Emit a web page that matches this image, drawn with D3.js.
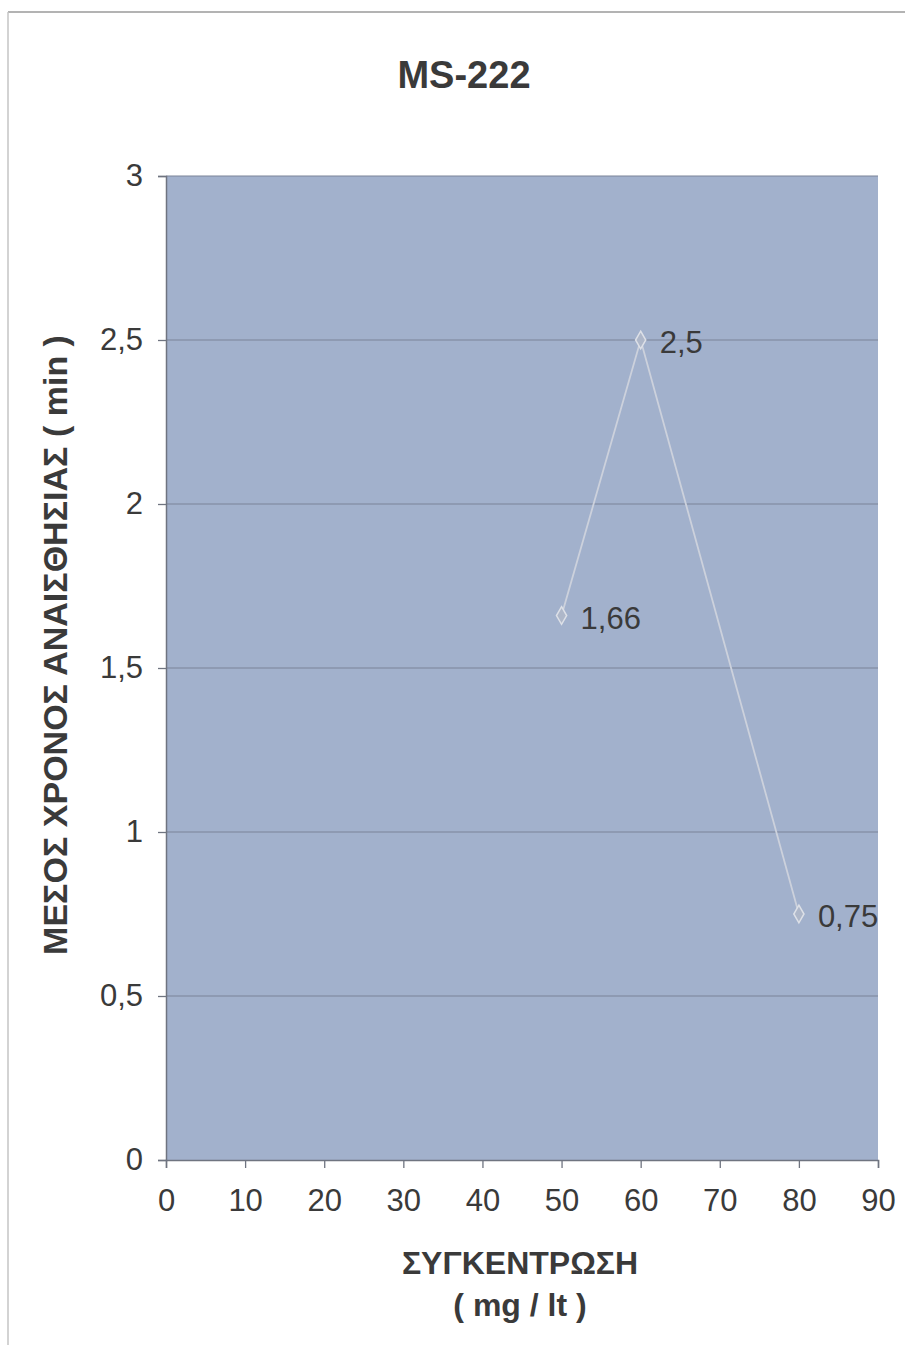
<!DOCTYPE html>
<html>
<head>
<meta charset="utf-8">
<script src="https://cdn.jsdelivr.net/npm/d3@7"></script>
<style>
  body { margin: 0; background: #fff; }
  text { font-family: "Liberation Sans", Arial, sans-serif; fill: #3a3a3a; }
</style>
</head>
<body>
<div id="chart"></div>
<script>
// data
var concentration = [50, 60, 80];
var meanTime = [1.66, 2.5, 0.75];
var pointLabels = ["1,66", "2,5", "0,75"];
var xTicks = [0, 10, 20, 30, 40, 50, 60, 70, 80, 90];
var yTicks = [0, 0.5, 1, 1.5, 2, 2.5, 3];

var width = 912, height = 1345;
var margin = {top: 176, right: 32, bottom: 185, left: 166};

var svg = d3.select("#chart").append("svg")
    .attr("width", width)
    .attr("height", height);

// page frame (scanned page edge)
svg.append("line").attr("x1", 8).attr("x2", 905).attr("y1", 12).attr("y2", 12)
    .attr("stroke", "#9a9a9a").attr("stroke-width", 1.5);
svg.append("line").attr("x1", 8).attr("x2", 8).attr("y1", 12).attr("y2", height)
    .attr("stroke", "#c4c4c4").attr("stroke-width", 1.5);

var x = d3.scaleLinear().domain([0, 90]).range([margin.left, width - margin.right - 2]);
var y = d3.scaleLinear().domain([0, 3]).range([height - margin.bottom, margin.top]);

// plot area
svg.append("rect")
    .attr("x", x(0)).attr("y", y(3))
    .attr("width", x(90) - x(0)).attr("height", y(0) - y(3))
    .attr("fill", "#a2b1cc");

// gridlines
svg.append("g").selectAll("line")
    .data(yTicks.filter(function(d){ return d > 0; }))
    .enter().append("line")
    .attr("x1", x(0)).attr("x2", x(90))
    .attr("y1", function(d){ return y(d); }).attr("y2", function(d){ return y(d); })
    .attr("stroke", "#7b8397").attr("stroke-width", 1.2);

var fmt = function(d){ return String(d).replace(".", ","); };

var yAxis = svg.append("g")
    .attr("transform", "translate(" + x(0) + ",0)")
    .call(d3.axisLeft(y).tickValues(yTicks).tickFormat(fmt).tickSize(8).tickPadding(15));

var xAxis = svg.append("g")
    .attr("transform", "translate(0," + y(0) + ")")
    .call(d3.axisBottom(x).tickValues(xTicks).tickSize(8).tickPadding(21));

[yAxis, xAxis].forEach(function(a){
  a.select(".domain").attr("stroke", "#6f7480").attr("stroke-width", 1.5);
  a.selectAll(".tick line").attr("stroke", "#6f7480").attr("stroke-width", 1.3);
  a.selectAll(".tick text")
    .style("font-size", "31px")
    .style("fill", "#3a3a3a");
});

// series line
var pts = concentration.map(function(c, i){ return {x: c, y: meanTime[i], label: pointLabels[i]}; });

svg.append("path")
    .datum(pts)
    .attr("fill", "none")
    .attr("stroke", "#ccd1dc")
    .attr("stroke-width", 1.8)
    .attr("d", d3.line().x(function(d){ return x(d.x); }).y(function(d){ return y(d.y); }));

svg.append("g").selectAll("path")
    .data(pts)
    .enter().append("path")
    .attr("transform", function(d){ return "translate(" + x(d.x) + "," + y(d.y) + ")"; })
    .attr("d", d3.symbol().type(d3.symbolDiamond).size(90))
    .attr("fill", "#aeb7c9")
    .attr("stroke", "#dde0e7")
    .attr("stroke-width", 1.5);

svg.append("g").selectAll("text")
    .data(pts)
    .enter().append("text")
    .attr("x", function(d){ return x(d.x) + 19; })
    .attr("y", function(d){ return y(d.y) + 13; })
    .style("font-size", "31px")
    .text(function(d){ return d.label; });

// title
svg.append("text")
    .attr("x", 464).attr("y", 88)
    .attr("text-anchor", "middle")
    .style("font-size", "38px")
    .style("font-weight", "bold")
    .text("MS-222");

// axis titles
svg.append("text")
    .attr("transform", "translate(67," + 645 + ") rotate(-90)")
    .attr("text-anchor", "middle")
    .style("font-size", "34px")
    .style("font-weight", "bold")
    .text("ΜΕΣΟΣ ΧΡΟΝΟΣ ΑΝΑΙΣΘΗΣΙΑΣ ( min )");

svg.append("text")
    .attr("x", 520).attr("y", 1274)
    .attr("text-anchor", "middle")
    .style("font-size", "32px")
    .style("font-weight", "bold")
    .text("ΣΥΓΚΕΝΤΡΩΣΗ");

svg.append("text")
    .attr("x", 520).attr("y", 1316)
    .attr("text-anchor", "middle")
    .style("font-size", "32px")
    .style("font-weight", "bold")
    .text("( mg / lt )");
</script>
</body>
</html>
